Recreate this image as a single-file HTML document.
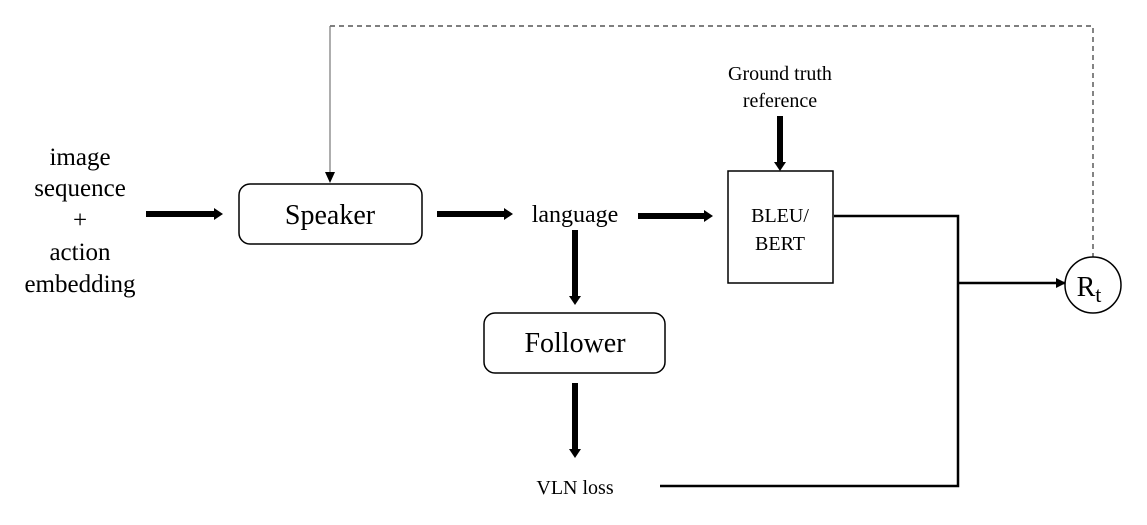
<!DOCTYPE html>
<html><head><style>body{margin:0;background:#fff}svg{display:block}text{font-family:"Liberation Serif",serif;fill:#000}</style></head>
<body>
<svg width="1147" height="525" viewBox="0 0 1147 525" xmlns="http://www.w3.org/2000/svg">
<defs>
<marker id="tk" markerWidth="2" markerHeight="2" refX="0.5" refY="1" orient="auto" markerUnits="strokeWidth" overflow="visible"><path d="M0,0 L1.5,1 L0,2 z" fill="#000"/></marker>
<marker id="th" markerWidth="10" markerHeight="10" refX="9" refY="5" orient="auto" markerUnits="userSpaceOnUse"><path d="M0,0 L10,5 L0,10 z" fill="#000"/></marker>
</defs>
<g text-anchor="middle" font-size="25">
<text x="80" y="165">image</text>
<text x="80" y="196">sequence</text>
<text x="80" y="228">+</text>
<text x="80" y="260">action</text>
<text x="80" y="292">embedding</text>
</g>
<path d="M330,26 H1093 V259" fill="none" stroke="#333" stroke-width="1.2" stroke-dasharray="5,4"/>
<line x1="330" y1="26" x2="330" y2="174" stroke="#777" stroke-width="1.2"/>
<path d="M325,172 L335,172 L330,183 z" fill="#000"/>
<rect x="239" y="184" width="183" height="60" rx="11" fill="#fff" stroke="#000" stroke-width="1.5"/>
<text x="330" y="224" text-anchor="middle" font-size="28">Speaker</text>
<line x1="146" y1="214" x2="217" y2="214" stroke="#000" stroke-width="6" marker-end="url(#tk)"/>
<line x1="437" y1="214" x2="507" y2="214" stroke="#000" stroke-width="6" marker-end="url(#tk)"/>
<text x="575" y="222" text-anchor="middle" font-size="24">language</text>
<line x1="638" y1="216" x2="707" y2="216" stroke="#000" stroke-width="6" marker-end="url(#tk)"/>
<line x1="575" y1="230" x2="575" y2="299" stroke="#000" stroke-width="6" marker-end="url(#tk)"/>
<rect x="484" y="313" width="181" height="60" rx="11" fill="#fff" stroke="#000" stroke-width="1.5"/>
<text x="575" y="352" text-anchor="middle" font-size="28">Follower</text>
<line x1="575" y1="383" x2="575" y2="452" stroke="#000" stroke-width="6" marker-end="url(#tk)"/>
<text x="575" y="494" text-anchor="middle" font-size="20">VLN loss</text>
<text x="780" y="80" text-anchor="middle" font-size="20">Ground truth</text>
<text x="780" y="107" text-anchor="middle" font-size="20">reference</text>
<line x1="780" y1="116" x2="780" y2="165" stroke="#000" stroke-width="6" marker-end="url(#tk)"/>
<rect x="728" y="171" width="105" height="112" fill="#fff" stroke="#000" stroke-width="1.5"/>
<text x="780" y="222" text-anchor="middle" font-size="20">BLEU/</text>
<text x="780" y="250" text-anchor="middle" font-size="20">BERT</text>
<path d="M834,216 H958 V486 H660" fill="none" stroke="#000" stroke-width="2.5"/>
<line x1="958" y1="283" x2="1065" y2="283" stroke="#000" stroke-width="2.5" marker-end="url(#th)"/>
<circle cx="1093" cy="285" r="28" fill="#fff" stroke="#000" stroke-width="1.5"/>
<text x="1089" y="296" text-anchor="middle" font-size="28" font-family="Liberation Sans, sans-serif">R<tspan font-size="22" dy="6">t</tspan></text>
</svg>
</body></html>
